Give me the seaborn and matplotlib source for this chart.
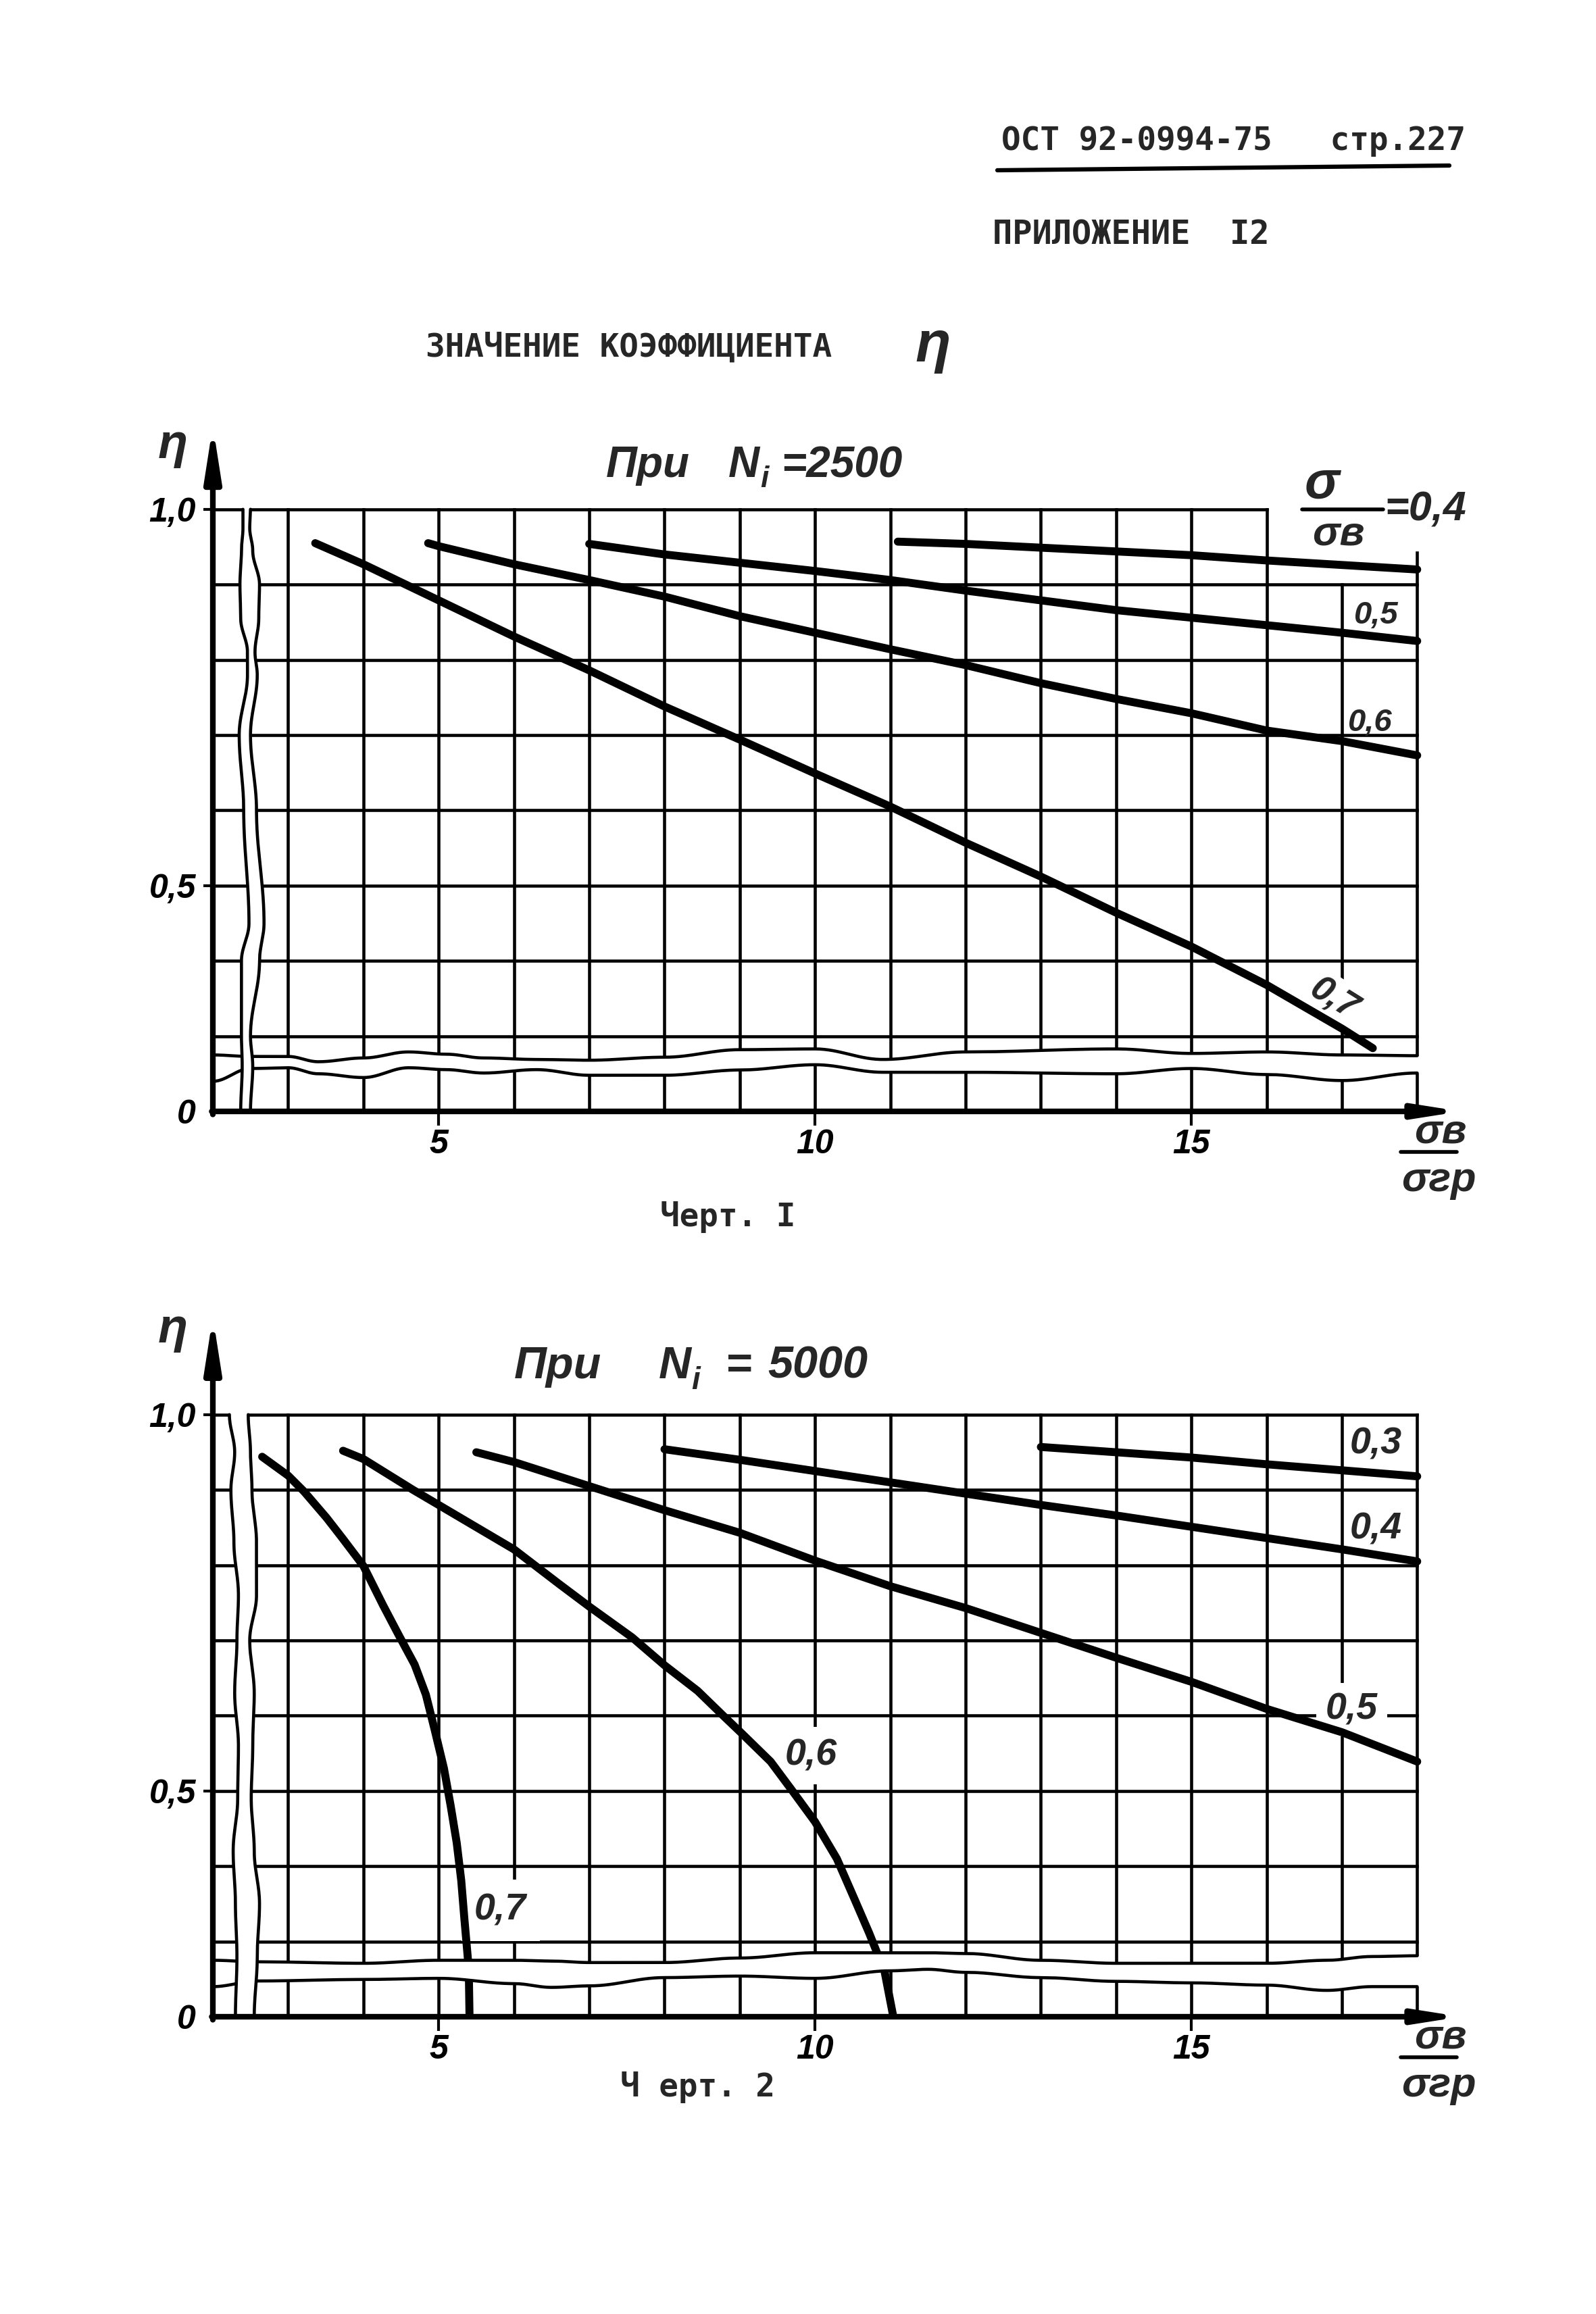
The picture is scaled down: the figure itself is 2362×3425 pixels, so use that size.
import numpy as np
import matplotlib
matplotlib.use("Agg")
import matplotlib.pyplot as plt
from matplotlib.lines import Line2D
import seaborn as sns

sns.set_theme(style="white", rc={"axes.facecolor": "white", "figure.facecolor": "white"})
HAND = ["Liberation Sans Narrow", "Liberation Sans", "DejaVu Sans"]
TYPE = ["DejaVu Sans Mono", "DejaVu Sans"]
plt.rcParams["font.family"] = HAND

# ---------------------------------------------------------------------------
# eta as a function of sigma_v / sigma_gr, one curve per sigma / sigma_v ratio
# ---------------------------------------------------------------------------
# Chart 1, N_i = 2500
c1_r04_x = [11.1, 12, 13, 14, 15, 16, 17, 18]
c1_r04_y = [0.957, 0.954, 0.949, 0.944, 0.939, 0.932, 0.926, 0.920]
c1_r05_x = [7.0, 8, 9, 10, 11, 12, 13, 14, 15, 16, 17, 18]
c1_r05_y = [0.954, 0.940, 0.929, 0.918, 0.906, 0.892, 0.879, 0.866, 0.856, 0.846, 0.836, 0.825]
c1_r06_x = [4.86, 5, 6, 7, 8, 9, 10, 11, 12, 13, 14, 15, 16, 17, 18]
c1_r06_y = [0.955, 0.951, 0.927, 0.906, 0.884, 0.858, 0.836, 0.814, 0.793, 0.769,
            0.748, 0.729, 0.706, 0.692, 0.673]
c1_r07_x = [3.36, 4, 5, 6, 7, 8, 9, 10, 11, 12, 13, 14, 15, 16, 17, 17.41]
c1_r07_y = [0.955, 0.927, 0.879, 0.831, 0.786, 0.738, 0.694, 0.649, 0.605, 0.557,
            0.512, 0.464, 0.419, 0.368, 0.310, 0.284]

# Chart 2, N_i = 5000
c2_r03_x = [13.0, 14, 15, 16, 17, 18]
c2_r03_y = [0.957, 0.950, 0.943, 0.934, 0.926, 0.918]
c2_r04_x = [8.0, 9, 10, 11, 12, 13, 14, 15, 16, 17, 18]
c2_r04_y = [0.954, 0.940, 0.925, 0.910, 0.895, 0.880, 0.866, 0.851, 0.836, 0.821, 0.805]
c2_r05_x = [5.50, 6, 7, 8, 9, 10, 11, 12, 13, 14, 15, 16, 17, 18]
c2_r05_y = [0.950, 0.937, 0.905, 0.873, 0.843, 0.806, 0.772, 0.743, 0.710, 0.677,
            0.645, 0.609, 0.578, 0.539]
c2_r06_x = [3.73, 4.0, 4.66, 5.0, 6.0, 6.6, 7.0, 7.57, 8.0, 8.44, 8.78, 9.0, 9.41,
            9.70, 10.0, 10.29, 10.53, 10.72, 10.82, 10.92, 11.04]
c2_r06_y = [0.952, 0.941, 0.900, 0.880, 0.821, 0.775, 0.745, 0.704, 0.667, 0.633,
            0.600, 0.579, 0.539, 0.500, 0.459, 0.410, 0.355, 0.311, 0.286, 0.24, 0.0]
c2_r07_x = [2.655, 3.0, 3.21, 3.51, 3.72, 4.0, 4.26, 4.47, 4.68, 4.83, 4.95, 5.07,
            5.16, 5.24, 5.30, 5.34, 5.39, 5.40, 5.41]
c2_r07_y = [0.944, 0.919, 0.898, 0.863, 0.836, 0.799, 0.747, 0.707, 0.668, 0.628,
            0.580, 0.530, 0.480, 0.431, 0.381, 0.332, 0.275, 0.24, 0.0]

# axis ticks and their labels
x_ticks = [5, 10, 15]
x_tick_labels = ["5", "10", "15"]
y_ticks = [0.0, 0.5, 1.0]
y_tick_labels = ["0", "0,5", "1,0"]

# wavy axis breaks: (position nodes, edge 1, edge 2)
hb1_x = [2.0, 2.5, 3.0, 3.4, 4.0, 4.6, 5.1, 5.6, 6.3, 7.0, 8.0, 9.0, 10.0, 10.9,
         12.0, 14.0, 15.0, 16.0, 17.0, 18.0]
hb1_up = [0.275, 0.273, 0.273, 0.266, 0.271, 0.279, 0.276, 0.271, 0.269, 0.268,
          0.272, 0.282, 0.283, 0.269, 0.279, 0.283, 0.277, 0.279, 0.275, 0.274]
hb1_lo = [0.240, 0.257, 0.258, 0.250, 0.245, 0.258, 0.2555, 0.251, 0.2555, 0.248,
          0.248, 0.255, 0.262, 0.252, 0.252, 0.250, 0.257, 0.249, 0.241, 0.251]
vb1_y = [0.2, 0.26, 0.3, 0.4, 0.45, 0.6, 0.7, 0.78, 0.81, 0.855, 0.9, 0.945, 0.975, 1.0]
vb1_l = [2.37, 2.39, 2.38, 2.38, 2.48, 2.41, 2.35, 2.46, 2.46, 2.37, 2.36, 2.38, 2.40, 2.40]
vb1_r = [2.50, 2.53, 2.50, 2.62, 2.68, 2.58, 2.50, 2.59, 2.56, 2.61, 2.62, 2.53, 2.49, 2.50]

hb2_x = [2.0, 2.6, 4.0, 5.0, 6.0, 6.5, 7.0, 8.0, 9.0, 10.0, 11.0, 11.5, 12.0, 13.0,
         14.0, 15.0, 16.0, 16.8, 17.4, 18.0]
hb2_up = [0.275, 0.273, 0.271, 0.275, 0.275, 0.274, 0.272, 0.272, 0.278, 0.285,
          0.285, 0.285, 0.284, 0.275, 0.271, 0.271, 0.271, 0.275, 0.280, 0.281]
hb2_lo = [0.240, 0.2475, 0.2495, 0.251, 0.244, 0.239, 0.241, 0.252, 0.254, 0.251,
          0.261, 0.263, 0.259, 0.252, 0.247, 0.245, 0.242, 0.235, 0.240, 0.240]
vb2_y = [0.2, 0.28, 0.35, 0.42, 0.49, 0.56, 0.63, 0.70, 0.76, 0.83, 0.90, 0.95, 1.0]
vb2_l = [2.30, 2.32, 2.30, 2.27, 2.33, 2.34, 2.29, 2.32, 2.34, 2.28, 2.24, 2.29, 2.22]
vb2_r = [2.55, 2.59, 2.62, 2.55, 2.51, 2.53, 2.55, 2.49, 2.58, 2.58, 2.52, 2.50, 2.47]

# ---------------------------------------------------------------------------
W, H, DPI = 2362, 3425, 100
PX, PY = 111.4, 1114.0          # pixels per unit on x and on eta
X_AXIS_PX = 315                 # pixel column of the eta axis
XLIM = (2.0, 18.8)
YLIM = (0.2, 1.16)
BREAK_TOP = 0.27                # eta is drawn true-to-scale above this level

LW_CURVE, LW_GRID, LW_AXIS = 8.5, 3.3, 6.0

fig = plt.figure(figsize=(W / DPI, H / DPI), dpi=DPI)
fig.patch.set_facecolor("white")


def broken(y):
    """Squeeze the range 0..BREAK_TOP into the strip below the axis break."""
    y = np.asarray(y, float)
    return np.where(y >= BREAK_TOP, y, 0.2 + y * (BREAK_TOP - 0.2) / BREAK_TOP)


def smooth(nodes, values, per_seg=30):
    nodes = np.asarray(nodes, float)
    values = np.asarray(values, float)
    ts, vs = [], []
    for i in range(len(nodes) - 1):
        t = np.linspace(0, 1, per_seg, endpoint=False)
        w = (1 - np.cos(np.pi * t)) / 2
        ts.append(nodes[i] + (nodes[i + 1] - nodes[i]) * t)
        vs.append(values[i] + (values[i + 1] - values[i]) * w)
    ts.append([nodes[-1]])
    vs.append([values[-1]])
    return np.concatenate(ts), np.concatenate(vs)


def page_text(x_px, y_px, s, **kw):
    fig.text(x_px / W, 1 - y_px / H, s, **kw)


def hand_page(x_px, y_px, s, size, **kw):
    page_text(x_px, y_px, s, fontsize=size, style="italic", weight="bold",
              family=HAND, va="baseline", **kw)


def type_page(x_px, y_px, s, size=34.3):
    page_text(x_px, y_px, s, fontsize=size, family=TYPE, weight="bold",
              va="baseline", ha="left")


def make_axes(y_base_px):
    w = (XLIM[1] - XLIM[0]) * PX / W
    h = (YLIM[1] - YLIM[0]) * PY / H
    ax = fig.add_axes([X_AXIS_PX / W, 1 - y_base_px / H, w, h])
    ax.set_xlim(*XLIM)
    ax.set_ylim(*YLIM)
    for s in ax.spines.values():
        s.set_visible(False)
    ax.patch.set_alpha(0)
    ax.grid(False)
    return ax


def draw_grid(ax, h_rows, v_cols):
    for ys, x0, x1 in h_rows:
        ax.hlines(ys, x0, x1, color="black", lw=LW_GRID, zorder=1, capstyle="projecting")
    for xs, y0, y1 in v_cols:
        ax.vlines(xs, y0, y1, color="black", lw=LW_GRID, zorder=1, capstyle="projecting")


def draw_curves(ax, curves):
    for xs, ys in curves:
        sns.lineplot(x=xs, y=broken(ys), ax=ax, color="black", lw=LW_CURVE,
                     sort=False, estimator=None, legend=False, zorder=3,
                     solid_capstyle="round", solid_joinstyle="round")


def draw_breaks(ax, hx, hup, hlo, vy, vl, vr):
    xs, up = smooth(hx, hup)
    _, lo = smooth(hx, hlo)
    xf = xs.copy()
    xf[-1] += 0.035
    ax.fill_between(xf, lo, up, color="white", lw=0, zorder=4)
    ax.plot(xs, up, color="black", lw=LW_GRID, zorder=5, solid_capstyle="round")
    ax.plot(xs, lo, color="black", lw=LW_GRID, zorder=5, solid_capstyle="round")
    ys, left = smooth(vy, vl)
    _, right = smooth(vy, vr)
    yf = ys.copy()
    yf[-1] += 0.004
    ax.fill_betweenx(yf, left, right, color="white", lw=0, zorder=6)
    ax.plot(left, ys, color="black", lw=LW_GRID, zorder=7, solid_capstyle="round")
    ax.plot(right, ys, color="black", lw=LW_GRID, zorder=7, solid_capstyle="round")


def draw_axes_arrows(ax, y_tip):
    ax.annotate("", xy=(2.0, y_tip), xytext=(2.0, 0.196), annotation_clip=False, zorder=10,
                arrowprops=dict(arrowstyle="-|>,head_length=2.3,head_width=0.36",
                                lw=LW_AXIS, color="black", shrinkA=0, shrinkB=0,
                                mutation_scale=20))
    ax.annotate("", xy=(18.58, 0.2), xytext=(1.985, 0.2), annotation_clip=False, zorder=10,
                arrowprops=dict(arrowstyle="-|>,head_length=1.9,head_width=0.3",
                                lw=LW_AXIS, color="black", shrinkA=0, shrinkB=0,
                                mutation_scale=20))


def style_ticks(ax):
    ax.set_xticks(x_ticks)
    ax.set_xticklabels(x_tick_labels)
    ax.set_yticks(broken(y_ticks))
    ax.set_yticklabels(y_tick_labels)
    ax.tick_params(axis="x", bottom=True, direction="out", length=15, width=3, pad=4,
                   labelsize=36, color="black", labelcolor="black")
    ax.tick_params(axis="y", left=True, direction="out", length=10, width=3, pad=8,
                   labelsize=36, color="black", labelcolor="black")
    ax.yaxis.get_major_ticks()[0].tick1line.set_visible(False)
    for lbl in ax.get_xticklabels() + ax.get_yticklabels():
        lbl.set_fontfamily(HAND)
        lbl.set_fontstyle("italic")
        lbl.set_fontweight("bold")


def hand(ax, x, y, s, size, box=False, rot=0, pad=0.2, ha="center"):
    kw = dict(ha=ha, va="center", fontsize=size, style="italic", weight="bold",
              family=HAND, rotation=rot, rotation_mode="anchor", zorder=9)
    if box:
        # the white patch interrupts the grid behind the label, not the curves
        kw["zorder"] = 2
        kw["bbox"] = dict(boxstyle=f"square,pad={pad}", fc="white", ec="none")
    ax.text(x, y, s, **kw)


def x_quantity(ax):
    hand(ax, 18.31, 0.172, "σв", 44)
    ax.plot([17.78, 18.53], [0.146, 0.146], color="black", lw=4, clip_on=False,
            solid_capstyle="round", zorder=10)
    hand(ax, 18.29, 0.108, "σгр", 44)


# ------------------------------- page header -------------------------------
type_page(1482, 222, "ОСТ 92-0994-75   стр.227")
fig.add_artist(Line2D([1476 / W, 2145 / W], [1 - 252 / H, 1 - 245 / H],
                      color="black", lw=4.5, solid_capstyle="round"))
type_page(1469, 362, "ПРИЛОЖЕНИЕ  I2", 35)
type_page(630, 528, "ЗНАЧЕНИЕ КОЭФФИЦИЕНТА")
page_text(1381, 513, "η", fontsize=62, family=HAND, style="italic", weight="bold",
          ha="center", va="center")

# --------------------------------- chart 1 ---------------------------------
ax1 = make_axes(1645)
draw_grid(ax1,
          [([0.3, 0.4, 0.5, 0.6, 0.7, 0.8, 0.9], 2.0, 18.0), ([1.0], 2.0, 16.0)],
          [(list(range(3, 17)), 0.2, 1.0), ([17], 0.2, 0.9), ([18], 0.2, 0.942)])
draw_curves(ax1, [(c1_r04_x, c1_r04_y), (c1_r05_x, c1_r05_y),
                  (c1_r06_x, c1_r06_y), (c1_r07_x, c1_r07_y)])
draw_breaks(ax1, hb1_x, hb1_up, hb1_lo, vb1_y, vb1_l, vb1_r)
draw_axes_arrows(ax1, 1.111)
style_ticks(ax1)
x_quantity(ax1)
hand(ax1, 17.45, 0.859, "0,5", 34)
hand(ax1, 17.37, 0.716, "0,6", 34)
hand(ax1, 16.89, 0.349, "0,7", 38, box=True, rot=-32, pad=0.15)
# ratio caption sigma / sigma_v = 0.4
hand(ax1, 16.73, 1.034, "σ", 56)
ax1.plot([16.47, 17.55], [1.0, 1.0], color="black", lw=4, solid_capstyle="round",
         zorder=9, clip_on=False)
hand(ax1, 16.95, 0.967, "σв", 44)
hand(ax1, 17.57, 0.999, "=0,4", 44, ha="left")
ax1.text(1.47, 1.085, "η", ha="center", va="center", fontsize=52, style="italic",
         weight="bold", family=HAND)
hand_page(897, 706, "При", 46)
hand_page(1078, 706, "N", 46)
hand_page(1125, 721, "i", 32)
hand_page(1156, 706, "=2500", 46)
type_page(977, 1815, "Черт. I")

# --------------------------------- chart 2 ---------------------------------
ax2 = make_axes(2985)
draw_grid(ax2,
          [([0.3, 0.4, 0.5, 0.6, 0.7, 0.8, 0.9, 1.0], 2.0, 18.0)],
          [(list(range(3, 19)), 0.2, 1.0)])
draw_curves(ax2, [(c2_r03_x, c2_r03_y), (c2_r04_x, c2_r04_y), (c2_r05_x, c2_r05_y),
                  (c2_r06_x, c2_r06_y), (c2_r07_x, c2_r07_y)])
draw_breaks(ax2, hb2_x, hb2_up, hb2_lo, vb2_y, vb2_l, vb2_r)
draw_axes_arrows(ax2, 1.13)
style_ticks(ax2)
x_quantity(ax2)
hand(ax2, 17.45, 0.961, "0,3", 40)
hand(ax2, 17.45, 0.848, "0,4", 40)
hand(ax2, 17.13, 0.608, "0,5", 40, box=True, pad=0.25)
hand(ax2, 9.95, 0.547, "0,6", 40, box=True, pad=0.3)
hand(ax2, 5.82, 0.341, "0,7", 40, box=True, pad=0.35)
ax2.text(1.47, 1.113, "η", ha="center", va="center", fontsize=52, style="italic",
         weight="bold", family=HAND)
hand_page(761, 2040, "При", 48)
hand_page(975, 2040, "N", 48)
hand_page(1023, 2056, "i", 33)
hand_page(1074, 2040, "=", 48)
hand_page(1136, 2040, "5000", 48)
type_page(918, 3103, "Ч ерт. 2")

fig.savefig("out.png", dpi=DPI, facecolor="white")
